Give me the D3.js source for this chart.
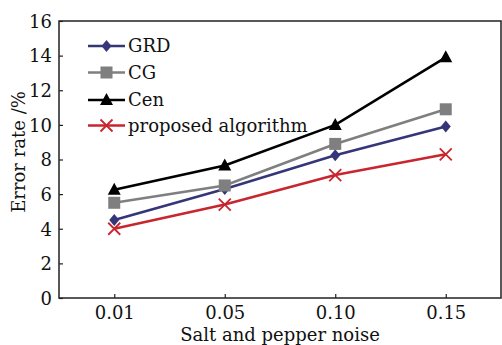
<!DOCTYPE html>
<html>
<head>
<meta charset="utf-8">
<script src="https://cdn.jsdelivr.net/npm/d3@7"></script>
<style>
  body { margin: 0; background: #fff; }
  text { font-family: "DejaVu Serif", "Liberation Serif", serif; }
</style>
</head>
<body>
<script>
var width = 502;
var height = 345;

var noise = ["0.01", "0.05", "0.10", "0.15"];
var grd = [4.5, 6.3, 8.25, 9.9];
var cg = [5.5, 6.5, 8.9, 10.9];
var cen = [6.25, 7.65, 10.0, 13.9];
var proposed = [4.0, 5.4, 7.1, 8.3];
var yTicks = [0, 2, 4, 6, 8, 10, 12, 14, 16];

var series = [
  { name: "GRD", values: grd, color: "#35357a", marker: "diamond" },
  { name: "CG", values: cg, color: "#7f7f7f", marker: "square" },
  { name: "Cen", values: cen, color: "#000000", marker: "triangle" },
  { name: "proposed algorithm", values: proposed, color: "#c8262f", marker: "cross" }
];

var margin = { left: 59, right: 1, top: 21, bottom: 47 };

var x = d3.scalePoint().domain(noise).range([margin.left, width - margin.right]).padding(0.5);
var y = d3.scaleLinear().domain([0, 16]).range([height - margin.bottom, margin.top]);

var svg = d3.select("body").append("svg")
  .attr("width", width)
  .attr("height", height);

// frame
svg.append("rect")
  .attr("x", margin.left)
  .attr("y", margin.top)
  .attr("width", width - margin.right - margin.left)
  .attr("height", height - margin.bottom - margin.top)
  .attr("fill", "none")
  .attr("stroke", "#222")
  .attr("stroke-width", 1.5);

var xAxis = svg.append("g")
  .attr("transform", "translate(0," + (height - margin.bottom) + ")")
  .call(d3.axisBottom(x).tickSize(-4).tickPadding(8));
var yAxis = svg.append("g")
  .attr("transform", "translate(" + margin.left + ",0)")
  .call(d3.axisLeft(y).tickValues(yTicks).tickSize(-4).tickPadding(7));

[xAxis, yAxis].forEach(function (g) {
  g.select(".domain").remove();
  g.selectAll(".tick line").attr("stroke", "#222").attr("stroke-width", 1.2);
  g.selectAll(".tick text")
    .attr("fill", "#111")
    .style("font-size", "18px")
    .style("font-family", "DejaVu Serif");
});
yAxis.selectAll(".tick text").attr("dy", "0.35em");

svg.append("text")
  .attr("x", x("0.05") + x.step() / 2)
  .attr("y", height - 4)
  .attr("text-anchor", "middle")
  .style("font-size", "18px")
  .attr("fill", "#111")
  .text("Salt and pepper noise");

svg.append("text")
  .attr("transform", "translate(25,152) rotate(-90)")
  .attr("text-anchor", "middle")
  .style("font-size", "18px")
  .attr("fill", "#111")
  .text("Error rate /%");

var line = d3.line()
  .x(function (d, i) { return x(noise[i]); })
  .y(function (d) { return y(d); });

function drawMarker(g, type, cx, cy, color) {
  if (type === "diamond") {
    g.append("path")
      .attr("d", "M" + cx + "," + (cy - 6) + "L" + (cx + 5) + "," + cy + "L" + cx + "," + (cy + 6) + "L" + (cx - 5) + "," + cy + "Z")
      .attr("fill", color);
  } else if (type === "square") {
    g.append("rect")
      .attr("x", cx - 6).attr("y", cy - 6)
      .attr("width", 12).attr("height", 12)
      .attr("fill", color);
  } else if (type === "triangle") {
    g.append("path")
      .attr("d", "M" + cx + "," + (cy - 7) + "L" + (cx + 6.5) + "," + (cy + 5) + "L" + (cx - 6.5) + "," + (cy + 5) + "Z")
      .attr("fill", color);
  } else {
    g.append("path")
      .attr("d", "M" + (cx - 6) + "," + (cy - 6) + "L" + (cx + 6) + "," + (cy + 6) + "M" + (cx + 6) + "," + (cy - 6) + "L" + (cx - 6) + "," + (cy + 6))
      .attr("stroke", color)
      .attr("stroke-width", 1.8)
      .attr("fill", "none");
  }
}

series.forEach(function (s) {
  var g = svg.append("g");
  g.append("path")
    .attr("d", line(s.values))
    .attr("fill", "none")
    .attr("stroke", s.color)
    .attr("stroke-width", 2.6);
  s.values.forEach(function (v, i) {
    drawMarker(g, s.marker, x(noise[i]), y(v), s.color);
  });
});

// legend
var legendY = [46, 72.5, 100, 125.5];
series.forEach(function (s, i) {
  var g = svg.append("g");
  var ly = legendY[i];
  g.append("line")
    .attr("x1", 88).attr("x2", 125)
    .attr("y1", ly).attr("y2", ly)
    .attr("stroke", s.color)
    .attr("stroke-width", 2.6);
  drawMarker(g, s.marker, 106.5, ly, s.color);
  g.append("text")
    .attr("x", 128)
    .attr("y", ly)
    .attr("dy", "0.35em")
    .style("font-size", "18px")
    .attr("fill", "#111")
    .text(s.name);
});
</script>
</body>
</html>
